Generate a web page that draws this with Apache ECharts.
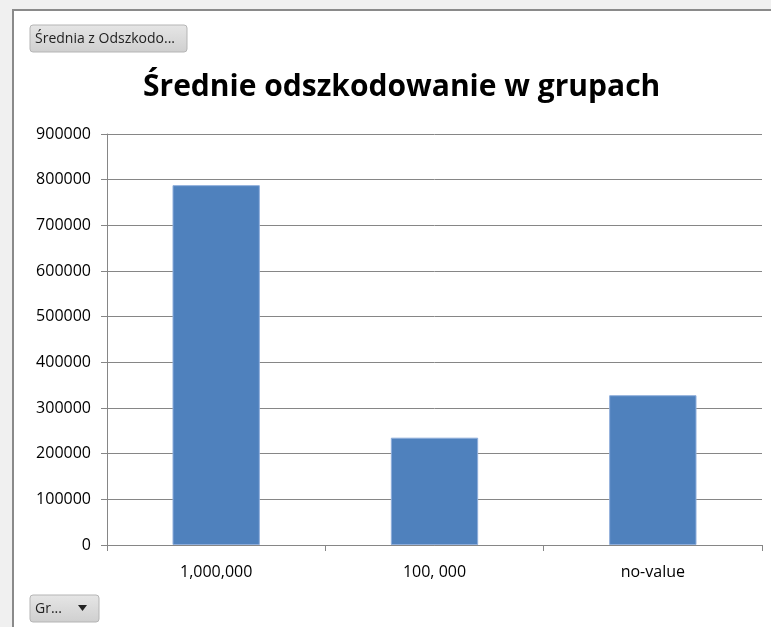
<!DOCTYPE html>
<html><head><meta charset="utf-8">
<script src="https://cdn.jsdelivr.net/npm/echarts@6/dist/echarts.min.js"></script>
<style>html,body{margin:0;padding:0;background:#f0f0f0}#c{width:771px;height:627px}</style>
</head><body><div id="c"></div>
<script>
const categories = ['1,000,000', '100, 000', 'no-value'];
const values = [788000, 235000, 328000];
const titleText = 'Średnie odszkodowanie w grupach';
const buttonText = 'Średnia z Odszkodo...';
const filterText = 'Gr...';

const chart = echarts.init(document.getElementById('c'), null, {renderer: 'canvas'});
const font = "'Open Sans', 'Noto Sans', sans-serif";
chart.setOption({
  backgroundColor: '#f0f0f0',
  animation: false,
  graphic: [
    {type: 'rect', z: -10, shape: {x: 13, y: 10, width: 800, height: 700}, style: {fill: '#fff', stroke: '#8a8a8a', lineWidth: 2}},
    {type: 'rect', shape: {x: 30, y: 25, width: 157, height: 27, r: 3}, style: {fill: new echarts.graphic.LinearGradient(0,0,0,1,[{offset:0,color:'#e6e6e6'},{offset:1,color:'#cfcfcf'}]), stroke: '#b5b5b5', lineWidth: 1}},
    {type: 'text', style: {x: 35, y: 39, text: buttonText, font: "14px " + font, fill: '#222', verticalAlign: 'middle'}},
    {type: 'rect', shape: {x: 30, y: 595, width: 69, height: 27, r: 3}, style: {fill: new echarts.graphic.LinearGradient(0,0,0,1,[{offset:0,color:'#e6e6e6'},{offset:1,color:'#cfcfcf'}]), stroke: '#b5b5b5', lineWidth: 1}},
    {type: 'text', style: {x: 35, y: 609, text: filterText, font: "14px " + font, fill: '#222', verticalAlign: 'middle'}},
    {type: 'polygon', shape: {points: [[78, 605], [87, 605], [82.5, 611]]}, style: {fill: '#222'}}
  ],
  title: {
    text: titleText, left: 138, top: 67,
    textStyle: {fontFamily: font, fontSize: 30, fontWeight: 'bold', color: '#000'}
  },
  grid: {left: 107, right: 9, top: 134, bottom: 82},
  xAxis: {
    type: 'category', data: categories,
    axisLine: {lineStyle: {color: '#868686'}},
    axisTick: {show: true, length: 6, lineStyle: {color: '#868686'}},
    axisLabel: {fontFamily: font, fontSize: 16, color: '#000', margin: 19}
  },
  yAxis: {
    type: 'value', min: 0, max: 900000, interval: 100000,
    axisLine: {show: true, lineStyle: {color: '#868686'}},
    axisTick: {show: true, length: 6, lineStyle: {color: '#868686'}},
    splitLine: {lineStyle: {color: '#868686'}},
    axisLabel: {fontFamily: font, fontSize: 16, color: '#000', margin: 16, formatter: v => String(v)}
  },
  series: [{
    type: 'bar', data: values, barWidth: '40%',
    itemStyle: {color: '#4f81bd', borderColor: '#8faedb', borderWidth: 1}
  }]
});
</script></body></html>
